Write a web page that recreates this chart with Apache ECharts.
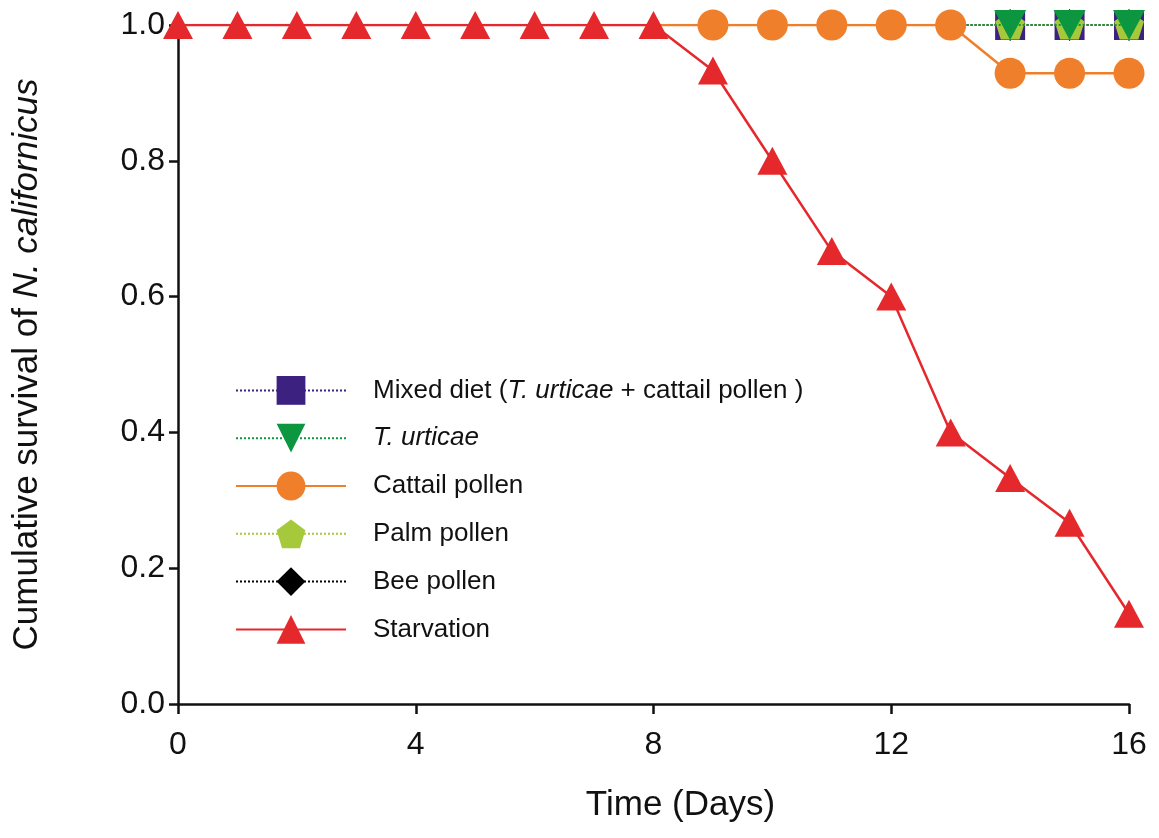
<!DOCTYPE html>
<html>
<head>
<meta charset="utf-8">
<script src="https://cdn.jsdelivr.net/npm/echarts@6/dist/echarts.min.js"></script>
<style>
  html, body { margin: 0; padding: 0; background: #fff; }
  #chart { width: 1159px; height: 838px; }
</style>
</head>
<body>
<div id="chart"></div>
<script>
// Cumulative survival of N. californicus under different diets
const days = [0, 1, 2, 3, 4, 5, 6, 7, 8, 9, 10, 11, 12, 13, 14, 15, 16];
const starvation = [1, 1, 1, 1, 1, 1, 1, 1, 1, 0.933, 0.8, 0.667, 0.6, 0.4, 0.333, 0.267, 0.133];
// Cattail pollen: plotted from day 8 (line start), markers from day 9
const cattailDays = [8, 9, 10, 11, 12, 13, 14, 15, 16];
const cattail = [1, 1, 1, 1, 1, 1, 0.929, 0.929, 0.929];
// Remaining diets: line from day 13, markers on days 14-16
const lateDays = [13, 14, 15, 16];
const mixedDiet = [1, 1, 1, 1];
const tUrticae = [1, 1, 1, 1];
const palmPollen = [1, 1, 1, 1];
const beePollen = [1, 1, 1, 1];
const xTicks = [0, 4, 8, 12, 16];

const FONT = 'Liberation Sans, Arial, sans-serif';

// pair x-values with y-values; the first point of a partial series carries no marker
function pairs(xs, ys, hideFirst) {
  return xs.map((x, i) => {
    const p = { value: [x, ys[i]] };
    if (hideFirst && i === 0) p.symbol = 'none';
    return p;
  });
}

const chart = echarts.init(document.getElementById('chart'), null, { renderer: 'canvas' });

const legendLabels = {
  'Mixed diet': '{r|Mixed diet (}{i|T. urticae}{r| + cattail pollen )}',
  'T. urticae': '{i|T. urticae}',
  'Cattail pollen': '{r|Cattail pollen}',
  'Palm pollen': '{r|Palm pollen}',
  'Bee pollen': '{r|Bee pollen}',
  'Starvation': '{r|Starvation}'
};

const option = {
  backgroundColor: '#ffffff',
  animation: false,
  grid: { left: 178, right: 30, top: 25, bottom: 134, containLabel: false },
  legend: {
    orient: 'vertical',
    left: 230,
    top: 371,
    itemWidth: 110,
    itemHeight: 36,
    itemGap: 19,
    data: ['Mixed diet', 'T. urticae', 'Cattail pollen', 'Palm pollen', 'Bee pollen', 'Starvation'],
    formatter: name => legendLabels[name],
    textStyle: {
      padding: [0, 0, 0, 22],
      rich: {
        r: { fontFamily: FONT, fontSize: 26, color: '#111' },
        i: { fontFamily: FONT, fontSize: 26, color: '#111', fontStyle: 'italic' }
      }
    }
  },
  xAxis: {
    type: 'value',
    min: 0,
    max: 16,
    interval: 4,
    name: 'Time (Days)',
    nameLocation: 'middle',
    nameGap: 84,
    nameTextStyle: { fontFamily: FONT, fontSize: 35, color: '#111', padding: [0, 0, 0, 54] },
    axisLine: { show: true, onZero: false, lineStyle: { color: '#111', width: 2.5 } },
    axisTick: { show: true, length: 10, lineStyle: { color: '#111', width: 2.5 } },
    axisLabel: {
      margin: 25, fontFamily: FONT, fontSize: 32, color: '#111',
      customValues: xTicks
    },
    splitLine: { show: false }
  },
  yAxis: {
    type: 'value',
    min: 0,
    max: 1,
    interval: 0.2,
    name: '{r|Cumulative survival of }{i|N. californicus}',
    nameLocation: 'middle',
    nameGap: 133,
    nameRotate: 90,
    nameTextStyle: {
      rich: {
        r: { fontFamily: FONT, fontSize: 35, color: '#111' },
        i: { fontFamily: FONT, fontSize: 35, color: '#111', fontStyle: 'italic' }
      }
    },
    axisLine: { show: true, lineStyle: { color: '#111', width: 2.5 } },
    axisTick: { show: true, length: 9, lineStyle: { color: '#111', width: 2.5 } },
    axisLabel: {
      margin: 13, fontFamily: FONT, fontSize: 32, color: '#111',
      formatter: v => v.toFixed(1)
    },
    splitLine: { show: false }
  },
  series: [
    {
      name: 'Mixed diet', type: 'line', z: 3,
      data: pairs(lateDays, mixedDiet, true),
      symbol: 'rect', symbolSize: 30,
      itemStyle: { color: '#3d2180' },
      lineStyle: { color: '#3d2180', width: 2, type: 'dotted' }
    },
    {
      name: 'T. urticae', type: 'line', z: 5,
      data: pairs(lateDays, tUrticae, true),
      symbol: 'triangle', symbolRotate: 180, symbolSize: [32, 30],
      itemStyle: { color: '#0b963f' },
      lineStyle: { color: '#0b963f', width: 2, type: 'dotted' }
    },
    {
      name: 'Cattail pollen', type: 'line', z: 6,
      data: pairs(cattailDays, cattail, true),
      symbol: 'circle', symbolSize: 31,
      itemStyle: { color: '#f07f2c' },
      lineStyle: { color: '#f07f2c', width: 2.5 }
    },
    {
      name: 'Palm pollen', type: 'line', z: 4,
      data: pairs(lateDays, palmPollen, true),
      symbol: 'path://M50,0 L100,38 L81,100 L19,100 L0,38 Z', symbolSize: [30, 29],
      itemStyle: { color: '#a5c93a' },
      lineStyle: { color: '#a5c93a', width: 2, type: 'dotted' }
    },
    {
      name: 'Bee pollen', type: 'line', z: 2,
      data: pairs(lateDays, beePollen, true),
      symbol: 'diamond', symbolSize: [28, 32],
      itemStyle: { color: '#000000' },
      lineStyle: { color: '#000000', width: 2, type: 'dotted' }
    },
    {
      name: 'Starvation', type: 'line', z: 7,
      data: pairs(days, starvation, false),
      symbol: 'triangle', symbolSize: [30, 28],
      itemStyle: { color: '#e5282c' },
      lineStyle: { color: '#e5282c', width: 2.5 }
    }
  ]
};

chart.setOption(option);
</script>
</body>
</html>
